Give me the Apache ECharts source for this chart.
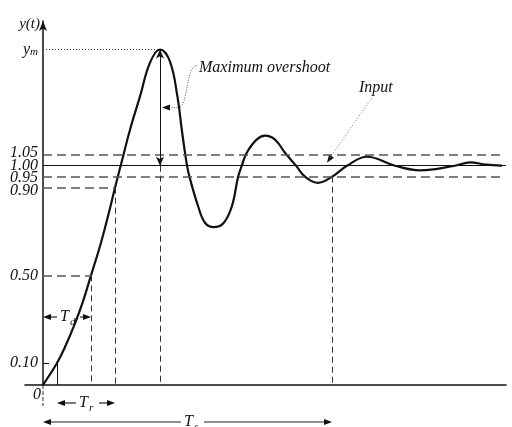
<!DOCTYPE html>
<html>
<head>
<meta charset="utf-8">
<script src="https://cdn.jsdelivr.net/npm/echarts@6/dist/echarts.min.js"></script>
<style>
  html, body { margin: 0; padding: 0; background: #fff; }
  #chart { width: 512px; height: 427px; }
</style>
</head>
<body>
<div id="chart"></div>
<script>
// Unit-step response of an underdamped second-order system (time in arbitrary units)
const time = [0, 0.35, 0.55, 0.80, 1.00, 1.20, 1.45, 1.65, 1.80, 1.97,
  2.175, 2.425, 2.675, 2.925, 3.175, 3.36, 3.47, 3.59,
  3.66, 3.88, 4.05, 4.26, 4.51, 4.72, 4.88, 4.97, 5.09, 5.34,
  5.55, 5.80, 6.05, 6.34, 6.55, 6.875, 7.225, 7.60, 8.10, 8.80,
  9.425, 10.30, 10.675, 11.075, 11.475];
const response = [0, 0.10, 0.173, 0.281, 0.381, 0.50, 0.649, 0.788, 0.90, 1.02,
  1.164, 1.316, 1.47, 1.53, 1.475, 1.316, 1.164, 1.012,
  0.951, 0.814, 0.74, 0.72, 0.738, 0.814, 0.951, 1.0, 1.058, 1.119,
  1.137, 1.119, 1.059, 0.997, 0.95, 0.922, 0.95, 1.0, 1.041, 1.0,
  0.979, 1.0, 1.015, 1.005, 1.0];

// Levels marked on the y axis and their labels
const tickValues = [0.10, 0.50, 0.90, 0.95, 1.00, 1.05, 1.53];
const tickLabels = ['0.10', '0.50', '0.90', '0.95', '1.00', '1.05', 'y_m'];

// Characteristic levels and times
const inputLevel = 1.00;
const band = [0.95, 1.05];
const peakValue = 1.53;      // y_m
const tPeak = 2.925;
const t10 = 0.35;            // 10 % point
const tDelay = 1.20;         // 50 % point (T_d)
const t90 = 1.80;            // 90 % point
const tSettle = 7.225;       // last entry into the band (T_s)
const tStart = -0.45;
const tEnd = 11.575;
const yTop = 1.66;

const FONT = "'Liberation Serif', 'DejaVu Serif', serif";
const INK = '#111';
const GUIDE = '#555';
const GRID_LEFT = 25, GRID_RIGHT = 6;
// the response axis stands at t = 0, inside the left edge of the grid
const yAxisShift = Math.round(-tStart / (tEnd - tStart) * (512 - GRID_LEFT - GRID_RIGHT));

const chart = echarts.init(document.getElementById('chart'), null, { renderer: 'canvas' });

const seg = (a, b, style, extra) => [
  Object.assign({ coord: a, lineStyle: style }, extra && extra[0]),
  Object.assign({ coord: b }, extra && extra[1])
];
const dashH = { color: GUIDE, width: 1.6, type: [9, 5] };
const dashV = { color: '#333', width: 1, type: [6, 4] };

// closely spaced labels around 1.00 are nudged apart a little
const labelStyle = { '1.05': 'up', '0.95': 'dn1', '0.90': 'dn2' };
const labelFont = { fontFamily: FONT, fontStyle: 'italic', fontSize: 16, color: INK };

chart.setOption({
  animation: false,
  grid: { left: GRID_LEFT, right: GRID_RIGHT, top: 21, bottom: 42, containLabel: false, outerBoundsMode: 'none' },
  xAxis: {
    type: 'value', min: tStart, max: tEnd,
    axisLine: { show: true, lineStyle: { color: INK, width: 1.5 } },
    axisTick: { show: false }, axisLabel: { show: false }, splitLine: { show: false }
  },
  yAxis: {
    type: 'value', min: 0, max: yTop,
    position: 'left', offset: -yAxisShift,
    axisLine: { show: true, onZero: false, symbol: ['none', 'arrow'], symbolSize: [6, 10],
      lineStyle: { color: INK, width: 1.5 } },
    axisTick: { show: true, inside: true, length: 6, customValues: [0.10],
      lineStyle: { color: INK, width: 1 } },
    splitLine: { show: false },
    axisLabel: {
      customValues: tickValues, margin: 5,
      fontFamily: FONT, fontStyle: 'italic', fontSize: 16, color: INK,
      formatter: v => {
        const s = tickLabels[tickValues.indexOf(v)];
        if (s === 'y_m') return '{y|y}{m|m}';
        return labelStyle[s] ? '{' + labelStyle[s] + '|' + s + '}' : s;
      },
      rich: {
        y: { fontFamily: FONT, fontStyle: 'italic', fontSize: 16, lineHeight: 16, verticalAlign: 'top', color: INK },
        m: { fontFamily: FONT, fontStyle: 'italic', fontSize: 11, lineHeight: 11, verticalAlign: 'bottom', padding: [7, 0, 0, 0], color: INK },
        up: Object.assign({ padding: [0, 0, 4, 0] }, labelFont),
        dn1: Object.assign({ padding: [2, 0, 0, 0] }, labelFont),
        dn2: Object.assign({ padding: [6, 0, 0, 0] }, labelFont)
      }
    }
  },
  series: [{
    type: 'line',
    data: time.map((t, i) => [t, response[i]]),
    smooth: 0.4,
    showSymbol: false,
    lineStyle: { color: INK, width: 2.2 },
    silent: true,
    markLine: {
      silent: true, symbol: 'none', animation: false,
      label: { show: false }, emphasis: { disabled: true },
      data: [
        seg([0, band[1]], [11.5, band[1]], dashH),
        seg([0, band[0]], [11.5, band[0]], dashH),
        seg([0, inputLevel], [tEnd, inputLevel], { color: INK, width: 1.2, type: 'solid' }),
        seg([0, 0.90], [t90, 0.90], dashH),
        seg([t90, 0.90], [t90, 0], dashV),
        seg([0, 0.50], [tDelay, 0.50], dashH),
        seg([tDelay, 0.50], [tDelay, 0], dashV),
        seg([t10, 0.10], [t10, 0], { color: INK, width: 1, type: 'solid' }),
        seg([0, peakValue], [tPeak, peakValue], { color: '#333', width: 1, type: [1, 2] }),
        seg([tPeak, peakValue], [tPeak, inputLevel], { color: INK, width: 1, type: 'solid' },
          [{ symbol: 'arrow', symbolSize: [6, 9] }, { symbol: 'arrow', symbolSize: [6, 9] }]),
        seg([tPeak, inputLevel], [tPeak, 0], dashV),
        seg([tSettle, band[0]], [tSettle, 0], dashV)
      ]
    }
  }]
});

// Annotations placed from data coordinates
const P = (t, v) => chart.convertToPixel({ gridIndex: 0 }, [t, v]);
const g = [];
const line = (x1, y1, x2, y2, stroke, w, dash) => g.push({
  type: 'line', silent: true,
  shape: { x1, y1, x2, y2 },
  style: { stroke: stroke || '#222', lineWidth: w || 1.2, lineDash: dash || null }
});
const head = (x, y, dx, dy) => {
  // filled arrowhead with tip at (x, y) pointing along (dx, dy)
  const L = Math.hypot(dx, dy), ux = dx / L, uy = dy / L;
  const bx = x - ux * 8, by = y - uy * 8;
  g.push({ type: 'polygon', silent: true,
    shape: { points: [[x, y], [bx - uy * 3, by + ux * 3], [bx + uy * 3, by - ux * 3]] },
    style: { fill: '#111' } });
};
const txt = (x, y, s, size, align) => g.push({
  type: 'text', silent: true, x, y,
  style: { text: s, fontFamily: FONT, fontStyle: 'italic', fontSize: size, fill: INK,
    align: align || 'left', verticalAlign: 'middle' }
});
const sub = (cx, y, main, small) => {
  txt(cx - 9, y, main, 16);
  txt(cx + 1, y + 5, small, 11);
};
// dimension arrow with a label in a gap at its middle
const dim = (xL, xR, y, main, small, cx) => {
  const mid = cx != null ? cx : (xL + xR) / 2;
  line(xL + 2, y, mid - 12, y);
  line(mid + 11, y, xR - 2, y);
  head(xL, y, -1, 0);
  head(xR, y, 1, 0);
  sub(mid, y, main, small);
};

const o = P(0, 0);
// axis labels at the origin and on the response axis
txt(o[0] - 2, o[1] + 10, '0', 16, 'right');
const axisTop = P(0, yTop);
txt(o[0] - 3, axisTop[1] + 3, 'y(t)', 15, 'right');
// short extension of the response axis below the origin
line(o[0], o[1], o[0], o[1] + 21, '#333', 1, [4, 2]);

// delay, rise and settling time
dim(o[0], P(tDelay, 0)[0], P(0, 0.31)[1], 'T', 'd', (o[0] + P(tDelay, 0)[0]) / 2 + 2);
dim(P(t10, 0)[0], P(t90, 0)[0], o[1] + 18, 'T', 'r', (P(t10, 0)[0] + P(t90, 0)[0]) / 2 + 2);
dim(o[0], P(tSettle, 0)[0], o[1] + 37, 'T', 's', 193);

// maximum overshoot callout
const a = P(tPeak, (peakValue + inputLevel) / 2);
const ax = a[0] + 2, ay = a[1];
head(ax, ay, -1, 0);
line(ax + 7, ay, ax + 16, ay, '#555', 1, [1, 1.5]);
g.push({ type: 'bezierCurve', silent: true,
  shape: { x1: ax + 16, y1: ay, cpx1: ax + 27, cpy1: ay, cpx2: ax + 23, cpy2: ay - 42, x2: ax + 35, y2: ay - 42 },
  style: { stroke: '#555', lineWidth: 1, lineDash: [1, 1.5], fill: null } });
txt(ax + 37, ay - 40, 'Maximum overshoot', 16);

// input callout
const ip = P(7.1, inputLevel);
const ix = ip[0], iy = ip[1] - 3;
head(ix, iy, -45, 65);
line(ix + 3, iy - 5, ix + 45, iy - 65, '#777', 1, [1, 2]);
txt(ix + 32, iy - 75, 'Input', 16);

chart.setOption({ graphic: g });
</script>
</body>
</html>
